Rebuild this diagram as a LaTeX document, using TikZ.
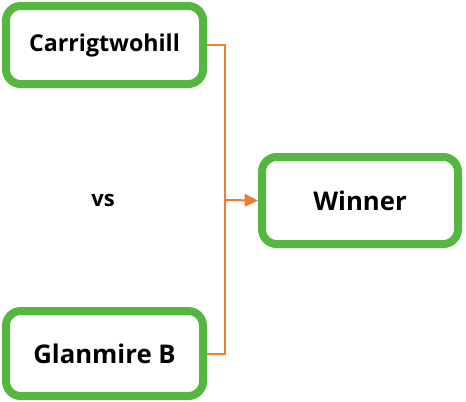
\documentclass[tikz,border=0pt]{standalone}
\usepackage{fontspec}
\setmainfont{Open Sans}
\usetikzlibrary{arrows.meta}

\definecolor{teamgreen}{RGB}{84,184,64}
\definecolor{linkorange}{RGB}{237,125,49}

\tikzset{
  team/.style={draw=teamgreen, line width=6pt, rounded corners=11pt, fill=white,
    font=\fontsize{19.3}{23}\selectfont\bfseries, minimum width=147.75pt, minimum height=58.5pt},
  link/.style={draw=linkorange, line width=1.5pt},
}

\begin{document}
\begin{tikzpicture}[x=0.75pt, y=-0.75pt]
        \useasboundingbox (0,0) rectangle (466,401);
        \node[team, font=\fontsize{17.4}{21}\selectfont\bfseries] (carrig) at (104.5,45) {Carrigtwohill};
        \node[team, minimum height=63.75pt] (glanmire) at (104.5,353.5) {Glanmire B};
        \node[team, minimum width=147pt, minimum height=65.25pt] (winner) at (360,200.5) {Winner};
        \node[font=\fontsize{16.5}{20}\selectfont\bfseries] (vs) at (103,200) {vs};

        \coordinate (join) at (225,200);
        \draw[link] (carrig.east) -| (join);
        \draw[link] (glanmire.east) -| (join);
        \draw[link, -{Triangle[length=10pt, width=9.5pt]}] (join) -- (winner.west);
\end{tikzpicture}
\end{document}
